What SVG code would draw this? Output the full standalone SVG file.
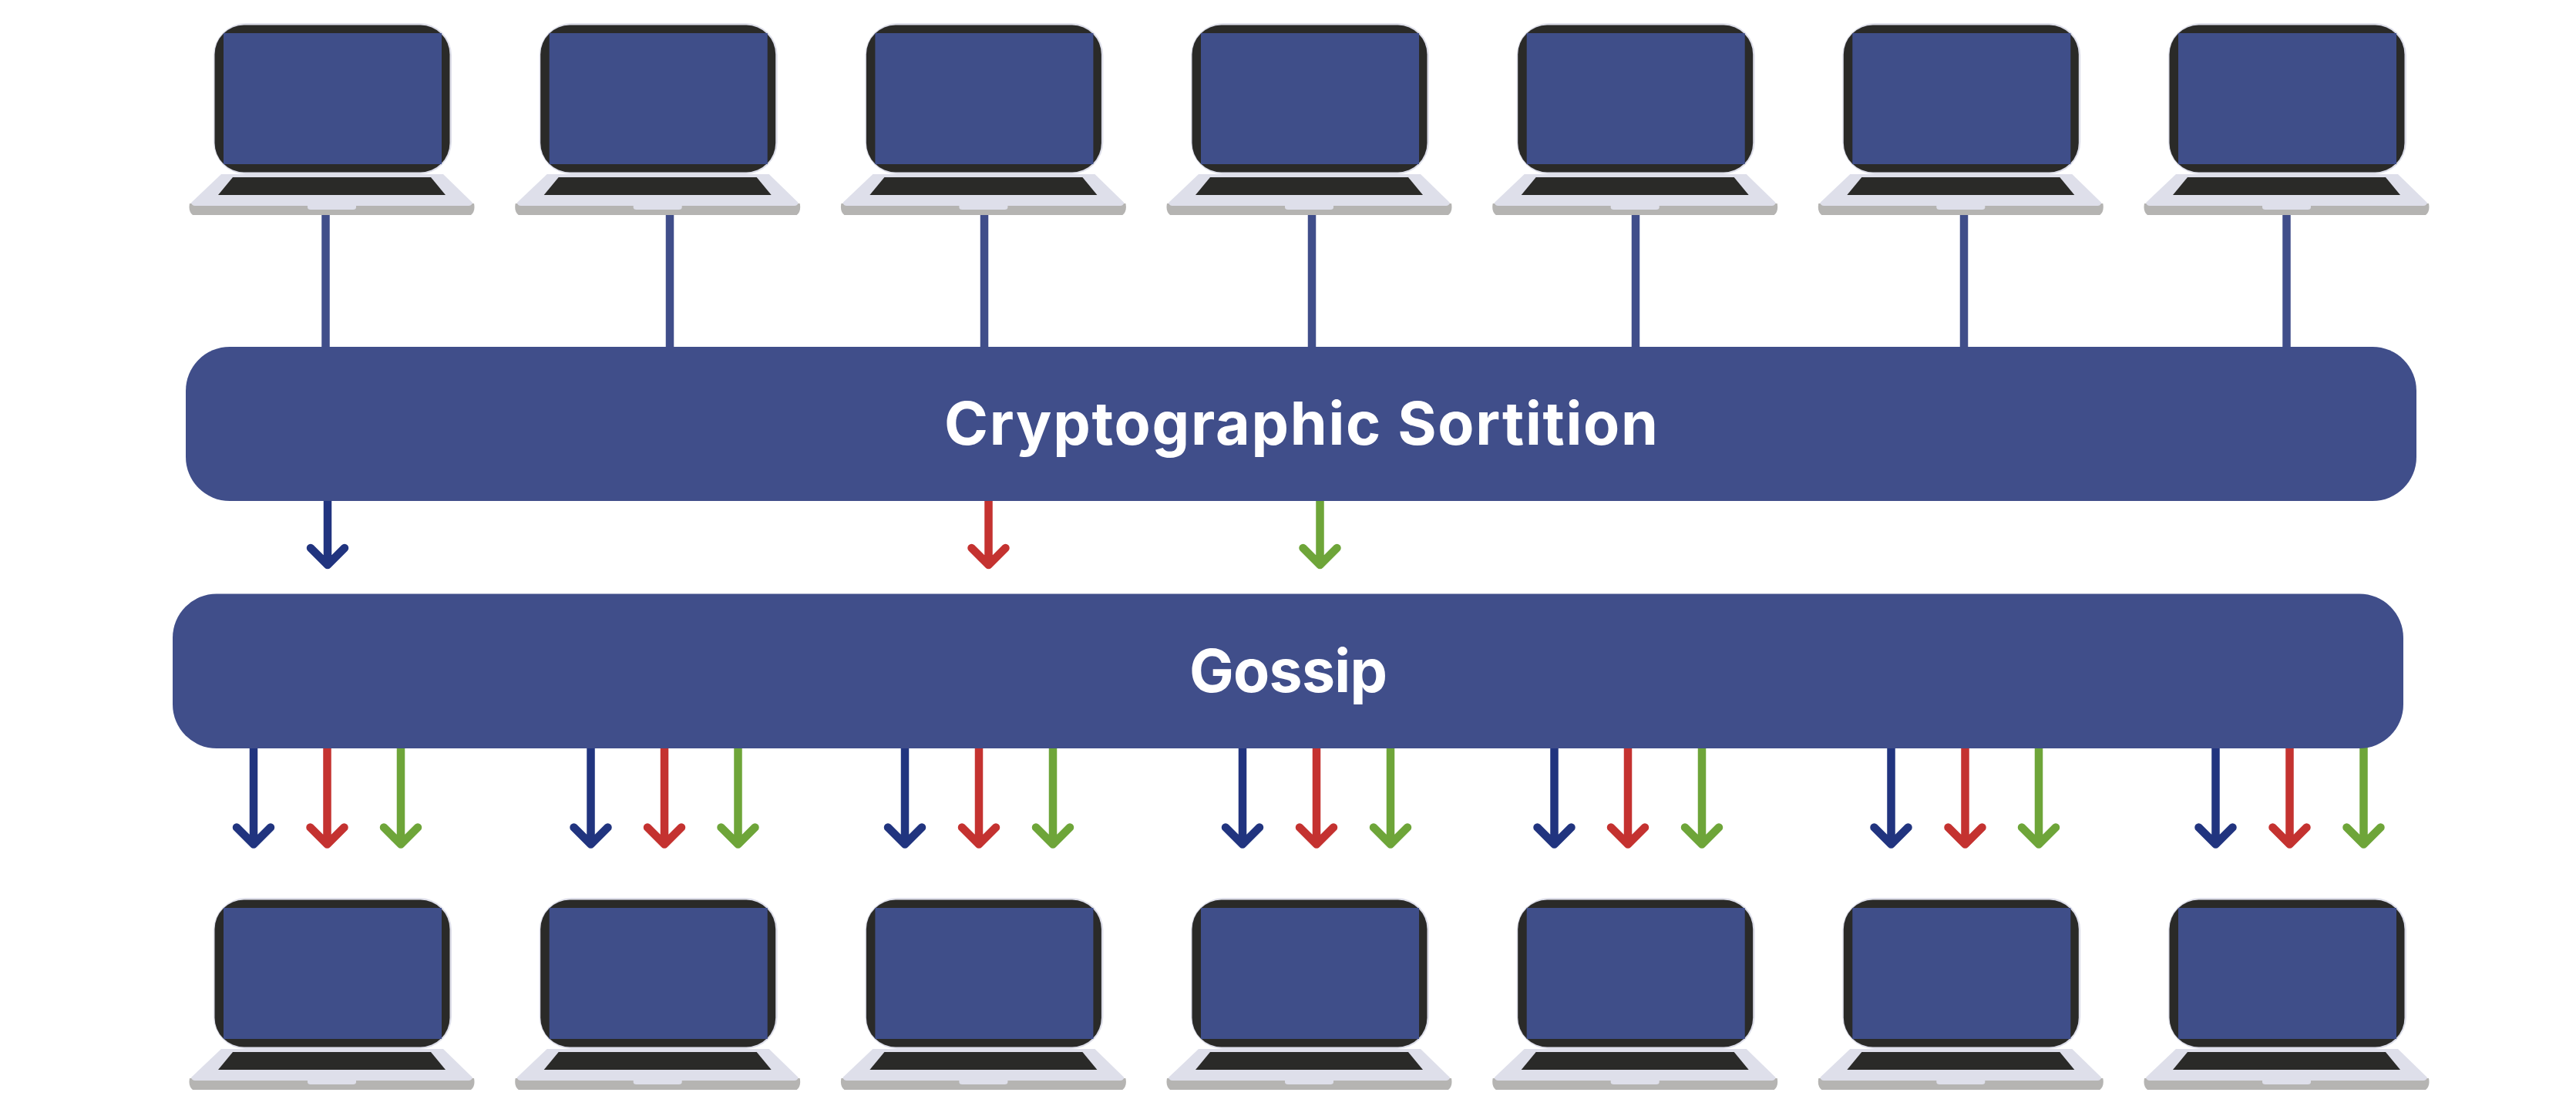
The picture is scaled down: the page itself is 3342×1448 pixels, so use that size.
<svg xmlns="http://www.w3.org/2000/svg" width="3342" height="1448" viewBox="0 0 3342 1448">
  <style>
    .bar { fill: #404e8a; }
    .label { font-family: "Inter", "Liberation Sans", sans-serif; font-weight: 700; fill: #ffffff; font-size: 77px; }
    .link { stroke: #404e8a; stroke-width: 10.5; fill: none; }
    .arrow { stroke-width: 10.5; fill: none; stroke-linecap: round; stroke-linejoin: round; }
    .navy { stroke: #21347f; }
    .red { stroke: #c43230; }
    .green { stroke: #6ea539; }
  </style>
  <defs>
    <g id="laptop">
      <rect x="277" y="30" width="309" height="196" rx="42" fill="#dedfea"/>
      <rect x="278.5" y="32.5" width="305" height="191" rx="38" fill="#2a2a28"/>
      <rect x="290" y="43" width="283" height="170" fill="#3f4e89"/>
      <path d="M246 264 Q244 274 250 279 H611 Q617 274 615 264 Z" fill="#b5b4b2"/>
      <path d="M287 226 H575 L613 263 Q612 267 608 267 H253 Q249 267 248 263 Z" fill="#dedfea"/>
      <path d="M399 267 H462 V269 Q462 272 458 272 H403 Q399 272 399 269 Z" fill="#dedfea"/>
      <path d="M302 230 H559 L578 253 H283 Z" fill="#2a2a28"/>
    </g>
  </defs>

  <!-- connectors: laptop uplinks, then the coloured message arrows -->
  <g id="connectors">
    <path class="link" d="M422.5 279V450M869 279V450M1277 279V450M1702 279V450M2122 279V450M2548 279V450M2966.5 279V450"/>
    <g class="arrow navy">
      <path d="M425 650V733M403 711L425 733L447 711"/>
      <path d="M329 970V1095M307 1073.5L329 1095.5L351 1073.5"/>
      <path d="M766.5 970V1095M744.5 1073.5L766.5 1095.5L788.5 1073.5"/>
      <path d="M1174 970V1095M1152 1073.5L1174 1095.5L1196 1073.5"/>
      <path d="M1612 970V1095M1590 1073.5L1612 1095.5L1634 1073.5"/>
      <path d="M2016.5 970V1095M1994.5 1073.5L2016.5 1095.5L2038.5 1073.5"/>
      <path d="M2453.5 970V1095M2431.5 1073.5L2453.5 1095.5L2475.5 1073.5"/>
      <path d="M2874.5 970V1095M2852.5 1073.5L2874.5 1095.5L2896.5 1073.5"/>
    </g>
    <g class="arrow red">
      <path d="M1282.5 650V733M1260.5 711L1282.5 733L1304.5 711"/>
      <path d="M424.5 970V1095M402.5 1073.5L424.5 1095.5L446.5 1073.5"/>
      <path d="M862 970V1095M840 1073.5L862 1095.5L884 1073.5"/>
      <path d="M1270 970V1095M1248 1073.5L1270 1095.5L1292 1073.5"/>
      <path d="M1708 970V1095M1686 1073.5L1708 1095.5L1730 1073.5"/>
      <path d="M2112 970V1095M2090 1073.5L2112 1095.5L2134 1073.5"/>
      <path d="M2549.5 970V1095M2527.5 1073.5L2549.5 1095.5L2571.5 1073.5"/>
      <path d="M2970.5 970V1095M2948.5 1073.5L2970.5 1095.5L2992.5 1073.5"/>
    </g>
    <g class="arrow green">
      <path d="M1712.5 650V733M1690.5 711L1712.5 733L1734.5 711"/>
      <path d="M520 970V1095M498 1073.5L520 1095.5L542 1073.5"/>
      <path d="M957.5 970V1095M935.5 1073.5L957.5 1095.5L979.5 1073.5"/>
      <path d="M1366 970V1095M1344 1073.5L1366 1095.5L1388 1073.5"/>
      <path d="M1804 970V1095M1782 1073.5L1804 1095.5L1826 1073.5"/>
      <path d="M2208 970V1095M2186 1073.5L2208 1095.5L2230 1073.5"/>
      <path d="M2645 970V1095M2623 1073.5L2645 1095.5L2667 1073.5"/>
      <path d="M3066.5 970V1095M3044.5 1073.5L3066.5 1095.5L3088.5 1073.5"/>
    </g>
  </g>

  <g id="sortition">
    <rect class="bar" x="241" y="450" width="2894" height="200" rx="57"/>
    <text class="label" x="1225" y="577" textLength="926" lengthAdjust="spacing">Cryptographic Sortition</text>
  </g>
  <g id="gossip">
    <rect class="bar" x="224" y="770.5" width="2894" height="200.5" rx="57"/>
    <text class="label" x="1543" y="898" textLength="257" lengthAdjust="spacing">Gossip</text>
  </g>

  <!-- sending laptops -->
  <g id="sender-1"><use href="#laptop"/></g>
  <g id="sender-2"><use href="#laptop" x="422.7"/></g>
  <g id="sender-3"><use href="#laptop" x="845.4"/></g>
  <g id="sender-4"><use href="#laptop" x="1268"/></g>
  <g id="sender-5"><use href="#laptop" x="1690.7"/></g>
  <g id="sender-6"><use href="#laptop" x="2113.3"/></g>
  <g id="sender-7"><use href="#laptop" x="2536"/></g>

  <!-- receiving laptops -->
  <g id="receiver-1"><use href="#laptop" y="1135"/></g>
  <g id="receiver-2"><use href="#laptop" x="422.7" y="1135"/></g>
  <g id="receiver-3"><use href="#laptop" x="845.4" y="1135"/></g>
  <g id="receiver-4"><use href="#laptop" x="1268" y="1135"/></g>
  <g id="receiver-5"><use href="#laptop" x="1690.7" y="1135"/></g>
  <g id="receiver-6"><use href="#laptop" x="2113.3" y="1135"/></g>
  <g id="receiver-7"><use href="#laptop" x="2536" y="1135"/></g>
</svg>
